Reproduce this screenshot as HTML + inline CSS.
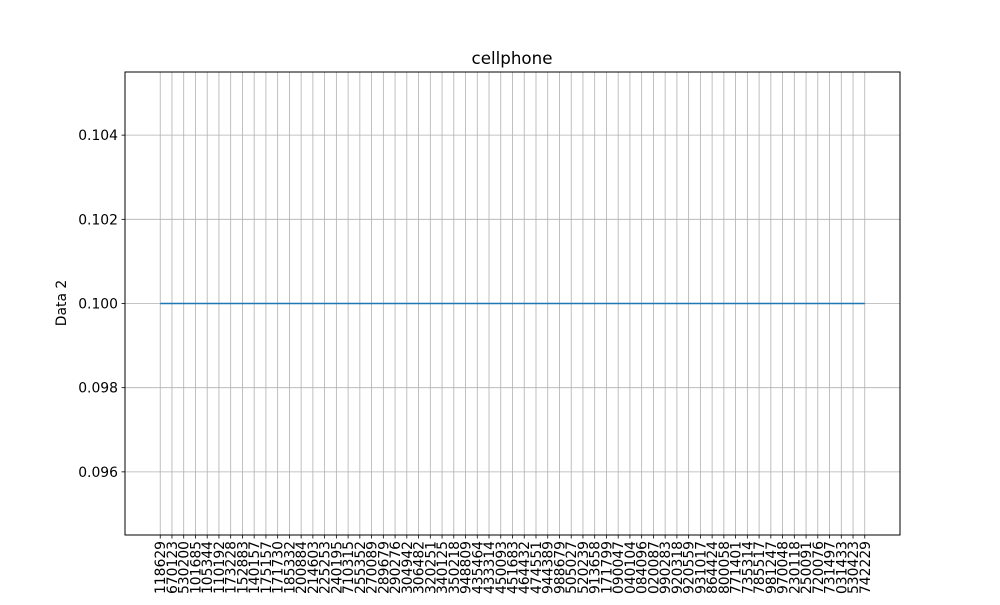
<!DOCTYPE html>
<html><head><meta charset="utf-8"><style>
body{margin:0;background:#fff}
svg text{font-family:"DejaVu Sans","Liberation Sans",sans-serif;fill:#000}
</style></head><body>
<svg id="chart" width="1000" height="600">
<rect width="1000" height="600" fill="#fff"/>
<text x="512" y="64" font-size="16.7" text-anchor="middle">cellphone</text>
<text x="0" y="0" font-size="13.9" text-anchor="middle" transform="translate(66,303) rotate(-90)">Data 2</text>
<g id="grid"></g><g id="xticks"></g><g id="yticks"></g><g id="series"></g>
<rect x="125" y="72" width="775" height="463" fill="none" stroke="#000" stroke-width="1"/>
</svg>
<script>
const categories=["118629","670123","530200","101685","105344","110192","173228","152883","140157","175157","171730","185332","200884","214603","225253","240195","710315","255352","270089","289679","290276","304942","306482","320251","340125","350218","948809","435464","433314","450093","451683","464432","474551","944389","988679","505027","520239","913658","171799","090047","040104","084096","020087","990283","920318","920559","931017","864424","800058","771401","735314","785517","981247","970048","230118","250091","720076","731497","031433","530423","742229"];
const values=categories.map(()=>0.1);
const yTicks=[0.096,0.098,0.100,0.102,0.104];
const yTickLabels=["0.096","0.098","0.100","0.102","0.104"];
const NS="http://www.w3.org/2000/svg";
const L=125,R=900,T=72,B=535;
const n=categories.length;
const xmin=-(n-1)*0.05,xmax=(n-1)*1.05;
const ymin=0.0945,ymax=0.1055;
const xs=i=>L+(i-xmin)/(xmax-xmin)*(R-L);
const ys=v=>B-(v-ymin)/(ymax-ymin)*(B-T);
function mk(tag,attrs,parent){const e=document.createElementNS(NS,tag);for(const k in attrs)e.setAttribute(k,attrs[k]);parent.appendChild(e);return e;}
const grid=document.getElementById('grid'),xt=document.getElementById('xticks'),yt=document.getElementById('yticks'),se=document.getElementById('series');
categories.forEach((c,i)=>{
  const x=xs(i);
  const g=mk('line',{x1:x,x2:x,y1:T,y2:B,stroke:'#b0b0b0','stroke-width':0.8},grid);
  
  
  const t=mk('line',{x1:x,x2:x,y1:B,y2:B+3.5,stroke:'#000','stroke-width':0.8},xt);
  
  
  const tx=mk('text',{x:0,y:0,'font-size':13.9,'text-anchor':'end',transform:`translate(${x+5},${B+6}) rotate(-90)`},xt);
  tx.textContent=c;
  
  
});
yTicks.forEach((v,i)=>{
  const y=ys(v);
  const g=mk('line',{x1:L,x2:R,y1:y,y2:y,stroke:'#b0b0b0','stroke-width':0.8},grid);
  
  
  const t=mk('line',{x1:L-3.5,x2:L,y1:y,y2:y,stroke:'#000','stroke-width':0.8},yt);
  
  
  const tx=mk('text',{x:L-7,y:y+5,'font-size':13.9,'text-anchor':'end'},yt);
  tx.textContent=yTickLabels[i];
  
  
});
const pl=mk('polyline',{points:values.map((v,i)=>xs(i)+','+ys(v)).join(' '),fill:'none',stroke:'#1f77b4','stroke-width':1.5},se);


</script>
</body></html>
